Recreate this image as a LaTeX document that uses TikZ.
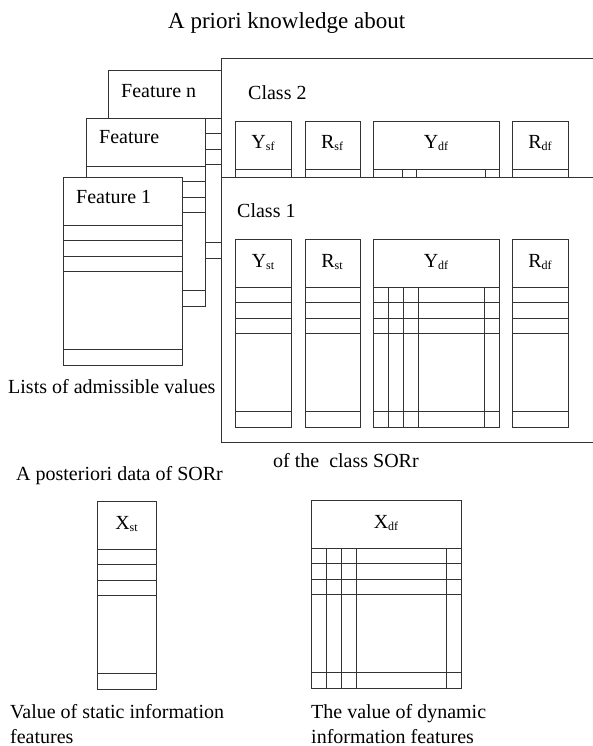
\documentclass[tikz,border=0pt]{standalone}
\usepackage{fontspec}
\setmainfont{Liberation Serif}
\tikzset{
    lbl/.style={anchor=base west,inner sep=0pt,font=\fontsize{20}{25}\selectfont},
    colhead/.style={anchor=base,inner sep=0pt,font=\fontsize{20}{25}\selectfont},
    tline/.style={draw=black!80,line width=0.8pt},
    sheet/.style={tline,fill=white}
}
\newcommand{\sub}[1]{{\fontsize{12}{12}\selectfont\raisebox{-2pt}{#1}}}
% one list column: left, right, top
\newcommand{\listcol}[3]{%
    \draw[sheet] (#1,#3) rectangle (#2,#3+188);
    \foreach \rowy in {48,63,79,94,172}
        \draw[tline] (#1,#3+\rowy) -- (#2,#3+\rowy);
}
% vertical lines of a dynamic column
\newcommand{\dfcol}[3]{%
    \foreach \colx in {15,30,45}
        \draw[tline] (#1+\colx,#3+48) -- (#1+\colx,#3+188);
    \draw[tline] (#2-15,#3+48) -- (#2-15,#3+188);
}

\begin{document}
\begin{tikzpicture}[x=1pt,y=-1pt]
    \useasboundingbox (0,0) rectangle (592,746);
    \node[lbl,font=\fontsize{23}{28}\selectfont] (title) at (168,29) {A priori knowledge about};

    % feature sheets
    \listcol{108}{228}{70}
    \node[lbl] (featn) at (121,98) {Feature n};
    \listcol{86}{205}{118}
    \node[lbl] (featm) at (99,144) {Feature};
    \listcol{63}{182}{177}
    \node[lbl] (feat1) at (76,203) {Feature 1};
    \node[lbl] (lists) at (8,393) {Lists of admissible values};

    % class 2
    \draw[sheet] (221,58) rectangle (620,442);
    \node[lbl] (class2) at (248,100) {Class 2};
    \listcol{235}{291}{121}
    \listcol{305}{360}{121}
    \listcol{373}{499}{121}
    \listcol{512}{568}{121}
    \foreach \colx in {29,43}
        \draw[tline] (373+\colx,169) -- (373+\colx,240);
    \draw[tline] (485,169) -- (485,240);
    \node[colhead] (ysf) at (263,149) {Y\sub{sf}};
    \node[colhead] (rsf) at (332,149) {R\sub{sf}};
    \node[colhead] (ydf2) at (436,149) {Y\sub{df}};
    \node[colhead] (rdf2) at (540,149) {R\sub{df}};

    % class 1
    \draw[sheet] (221,177) rectangle (620,442);
    \node[lbl] (class1) at (237,217) {Class 1};
    \listcol{235}{291}{239}
    \listcol{305}{360}{239}
    \listcol{373}{499}{239}
    \dfcol{373}{499}{239}
    \listcol{512}{568}{239}
    \node[colhead] (yst) at (263,267) {Y\sub{st}};
    \node[colhead] (rst) at (332,267) {R\sub{st}};
    \node[colhead] (ydf1) at (436,267) {Y\sub{df}};
    \node[colhead] (rdf1) at (540,267) {R\sub{df}};
    \node[lbl] (ofclass) at (273,467) {of the\ \ class SORr};

    % a posteriori data
    \node[lbl] (apost) at (16,480) {A posteriori data of SORr};
    \listcol{97}{156}{501}
    \node[colhead] (xst) at (126.5,529) {X\sub{st}};
    \listcol{311}{461}{500}
    \dfcol{311}{461}{500}
    \node[colhead] (xdf) at (386,528) {X\sub{df}};
    \node[lbl,align=left] (statval) at (10,743) {Value of static information\\features};
    \node[lbl,align=left] (dynval) at (311,743) {The value of dynamic\\information features};
\end{tikzpicture}
\end{document}
